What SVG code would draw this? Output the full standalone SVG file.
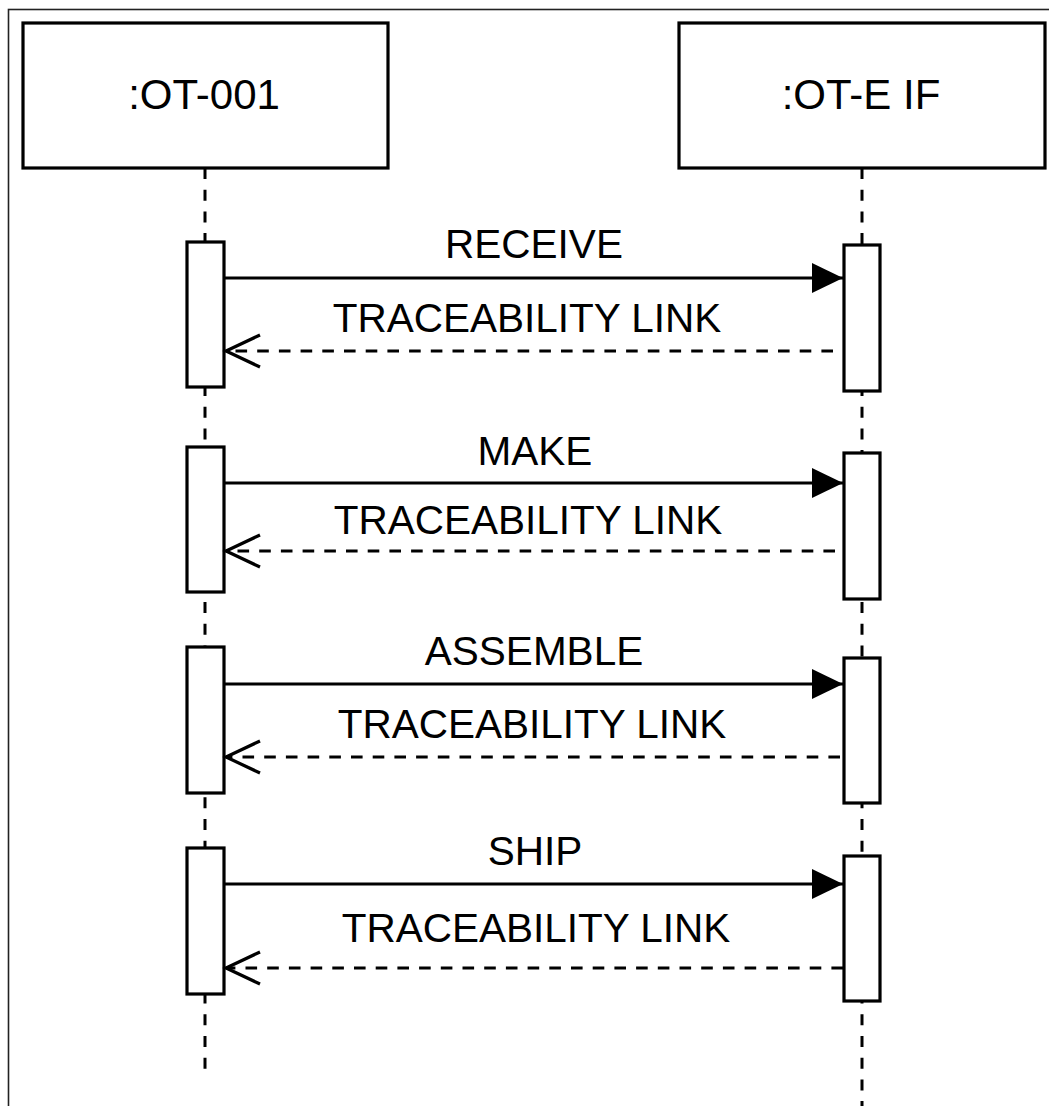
<svg xmlns="http://www.w3.org/2000/svg" width="1049" height="1106" viewBox="0 0 1049 1106">
  <style>
    .frame { fill: none; stroke: #222222; stroke-width: 1.6; }
    .box { fill: #ffffff; stroke: #000000; stroke-width: 3.2; }
    .act { fill: #ffffff; stroke: #000000; stroke-width: 3.2; }
    .life { fill: none; stroke: #000000; stroke-width: 3; stroke-dasharray: 11 10.7; }
    .call { fill: none; stroke: #000000; stroke-width: 3.2; marker-end: url(#filled); }
    .ret { fill: none; stroke: #000000; stroke-width: 3; stroke-dasharray: 11.6 10.1; marker-end: url(#open); }
    .title { font-family: "Liberation Sans", Arial, sans-serif; font-size: 42px; fill: #000000; text-anchor: middle; }
    .lbl { font-family: "Liberation Sans", Arial, sans-serif; font-size: 40.5px; fill: #000000; text-anchor: middle; }
  </style>
  <defs>
    <marker id="filled" markerUnits="userSpaceOnUse" viewBox="-32 -16 33 32" refX="0" refY="0" markerWidth="33" markerHeight="32" orient="auto" overflow="visible">
      <path d="M-31,-15 L0,0 L-31,15 Z" fill="#000000" stroke="none"/>
    </marker>
    <marker id="open" markerUnits="userSpaceOnUse" viewBox="-36 -18 38 36" refX="0" refY="0" markerWidth="38" markerHeight="36" orient="auto" overflow="visible">
      <path d="M-34,-16 L0,0 L-34,16" fill="none" stroke="#000000" stroke-width="3.2"/>
    </marker>
  </defs>

  <rect class="frame" x="8.5" y="9.5" width="1100" height="1200"/>

  <g id="lifelines">
    <line class="life" x1="205" y1="168" x2="205" y2="1074"/>
    <line class="life" x1="862" y1="168" x2="862" y2="1106"/>
  </g>

  <g id="node-ot001">
    <rect class="box" x="23" y="23" width="365" height="145"/>
    <text class="title" x="204" y="109">:OT-001</text>
  </g>
  <g id="node-oteif">
    <rect class="box" x="679" y="23" width="366" height="145"/>
    <text class="title" x="861" y="109">:OT-E IF</text>
  </g>

  <g id="act-left-1"><rect class="act" x="187" y="242" width="37" height="145"/></g>
  <g id="act-right-1"><rect class="act" x="844" y="245" width="36" height="146"/></g>
  <g id="act-left-2"><rect class="act" x="187" y="447" width="37" height="145"/></g>
  <g id="act-right-2"><rect class="act" x="844" y="453" width="36" height="146"/></g>
  <g id="act-left-3"><rect class="act" x="187" y="647" width="37" height="146"/></g>
  <g id="act-right-3"><rect class="act" x="844" y="658" width="36" height="145"/></g>
  <g id="act-left-4"><rect class="act" x="187" y="848" width="37" height="146"/></g>
  <g id="act-right-4"><rect class="act" x="844" y="856" width="36" height="145"/></g>

  <g id="connectors">
    <line class="call" x1="224" y1="278" x2="843" y2="278"/>
    <text class="lbl" x="534" y="258">RECEIVE</text>
    <line class="ret" x1="833" y1="351" x2="226" y2="351"/>
    <text class="lbl" x="527" y="332">TRACEABILITY LINK</text>

    <line class="call" x1="224" y1="483" x2="843" y2="483"/>
    <text class="lbl" x="535" y="465">MAKE</text>
    <line class="ret" x1="835" y1="551" x2="226" y2="551"/>
    <text class="lbl" x="528" y="534">TRACEABILITY LINK</text>

    <line class="call" x1="224" y1="684" x2="843" y2="684"/>
    <text class="lbl" x="534" y="665">ASSEMBLE</text>
    <line class="ret" x1="840" y1="757" x2="226" y2="757"/>
    <text class="lbl" x="532" y="738">TRACEABILITY LINK</text>

    <line class="call" x1="224" y1="884" x2="843" y2="884"/>
    <text class="lbl" x="535" y="865">SHIP</text>
    <line class="ret" x1="843" y1="968" x2="226" y2="968"/>
    <text class="lbl" x="536" y="942">TRACEABILITY LINK</text>
  </g>
</svg>
